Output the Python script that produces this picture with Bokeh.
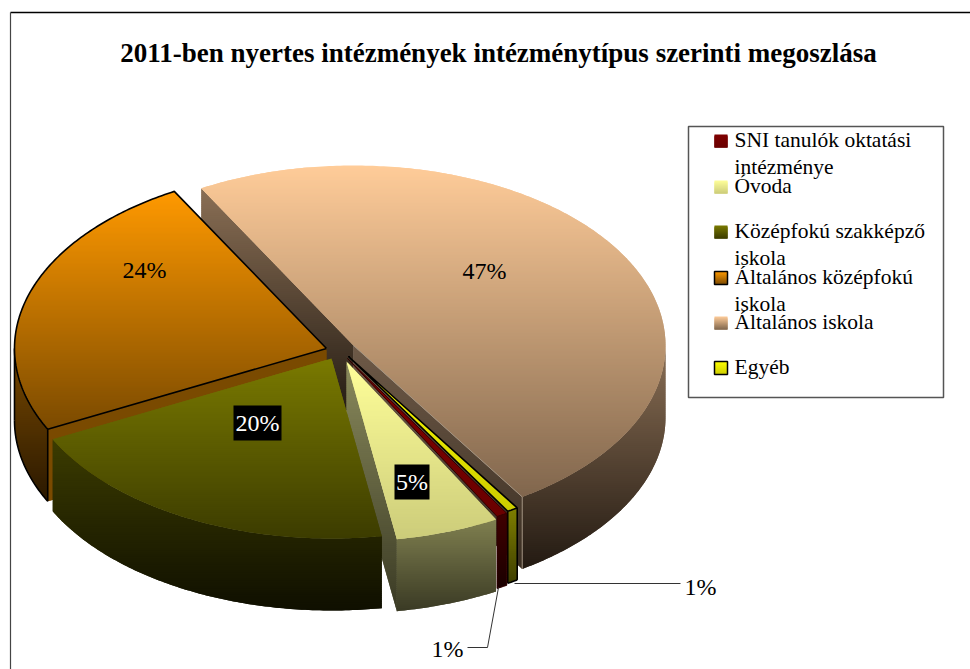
import math
from bokeh.plotting import figure
from bokeh.models import Range1d
from bokeh.core.properties import value
from bokeh.embed import file_html
from bokeh.resources import INLINE

title = "2011-ben nyertes intézmények intézménytípus szerinti megoszlása"
# clockwise from the upper-left cut of the pie
categories = ["Általános iskola", "Egyéb", "SNI tanulók oktatási intézménye", "Óvoda",
              "Középfokú szakképző iskola", "Általános középfokú iskola"]
shares = [47.4, 0.55, 0.55, 5.2, 19.5, 23.5]
legend_order = [2, 3, 4, 5, 0, 1]
legend_lines = [["SNI tanulók oktatási", "intézménye"], ["Óvoda"], ["Középfokú szakképző", "iskola"],
                ["Általános középfokú", "iskola"], ["Általános iskola"], ["Egyéb"]]

# layout: the page-pixel frame of the reference
W, H = 970, 669
CX, CY, A, B, DEPTH = 339, 352, 312, 180, 72
START = -29.2
EXPLODE = [(14, -7), (9, 4), (8, 6), (7, 9), (-8, 6), (-13, -4)]
TOP = [("#ffcc99", "#80664d"), ("#ffff00", "#cccc00"), ("#800000", "#6a0000"),
       ("#ffff99", "#cccc7a"), ("#7a7a00", "#3c3c00"), ("#ff9900", "#7a4a00")]
RIM = [("#8a6f55", "#231a12"), ("#7f7f00", "#3f3f00"), ("#400000", "#1a0000"),
       ("#808050", "#3a3a24"), ("#3c3c00", "#0f0f00"), ("#7a4a00", "#2a1800")]
WALL = [("#8a6f55", "#221a12"), ("#7a4a00", "#7a4a00"), ("#400000", "#400000"),
        ("#8a8a5c", "#3a3a24"), ("#3f3f00", "#3f3f00"), ("#7a4a00", "#7a4a00")]
OUTLINE = ["#a39482", "black", "#300000", None, None, "black"]


def hex2rgb(h):
    return tuple(int(h[i:i + 2], 16) for i in (1, 3, 5))


def mix(c0, c1, t):
    a, b = hex2rgb(c0), hex2rgb(c1)
    return "#%02x%02x%02x" % tuple(round(a[i] + (b[i] - a[i]) * t) for i in range(3))


def clip(poly, y, keep_below):
    out = []
    inside = (lambda q: q[1] >= y) if keep_below else (lambda q: q[1] <= y)
    for i, q in enumerate(poly):
        r = poly[(i + 1) % len(poly)]
        if inside(q):
            out.append(q)
        if inside(q) != inside(r):
            t = (y - q[1]) / (r[1] - q[1])
            out.append((q[0] + (r[0] - q[0]) * t, y))
    return out


def face(poly, c0, c1, step=2.0):
    """Vertical gradient: pixel-aligned bands, each overlapping the next so no seam shows."""
    xs_all, ys_all, fills = [], [], []
    ymin, ymax = min(q[1] for q in poly), max(q[1] for q in poly)
    y = float(math.floor(ymin))
    while y < ymax:
        part = clip(clip(poly, max(y, ymin), True), min(y + step + 2, ymax), False)
        if len(part) > 2:
            t = max(0.0, min(1.0, (y + step / 2 - ymin) / max(ymax - ymin, 1e-6)))
            xs_all.append([q[0] for q in part])
            ys_all.append([q[1] for q in part])
            fills.append(mix(c0, c1, t))
        y += step
    p.patches(xs_all, ys_all, fill_color=fills, line_color=None, fill_alpha=1.0)


def arc(cx, cy, t0, t1, dy=0.0):
    n = max(2, int(abs(t1 - t0) * 1.5))
    pts = []
    for i in range(n + 1):
        th = math.radians(t0 + (t1 - t0) * i / n)
        pts.append((cx + A * math.sin(th), cy - B * math.cos(th) + dy))
    return pts


def outline(pts, c, width):
    p.line([q[0] for q in pts], [q[1] for q in pts], line_color=c, line_width=width, line_alpha=1.0)


p = figure(width=W, height=H, x_range=Range1d(0, W), y_range=Range1d(H, 0),
           x_axis_type=None, y_axis_type=None, toolbar_location=None, output_backend="svg",
           min_border=0, outline_line_color=None, background_fill_color="white",
           styles={"position": "absolute", "left": "0px", "top": "0px"})

# chart frame
p.line([10, 970], [12, 12], line_color="black", line_width=1.5)
p.line([10, 10], [12, 669], line_color="#444444", line_width=1.2)

total = sum(shares)
angles = [START]
for v in shares:
    angles.append(angles[-1] + v / total * 360)

# painter's order: back to front
for i in [0, 5, 1, 2, 3, 4]:
    t0, t1 = angles[i], angles[i + 1]
    cx, cy = CX + EXPLODE[i][0], CY + EXPLODE[i][1]
    top_arc = arc(cx, cy, t0, t1)
    apex = (cx, cy)
    c = OUTLINE[i]
    width = 1.6 if c == "black" else 1
    # cut walls
    if i == 0:
        a, b = top_arc[0], top_arc[-1]
        face([a, apex, (apex[0], apex[1] + DEPTH), (a[0], a[1] + DEPTH)], WALL[0][0], WALL[0][1])
        face([apex, b, (b[0], b[1] + DEPTH), (apex[0], apex[1] + DEPTH)], "#6e5a48", "#3a2e22")
    elif i == 5:
        a = top_arc[0]
        face([apex, a, (a[0], a[1] + DEPTH), (apex[0], apex[1] + DEPTH)], WALL[5][0], WALL[5][1])
    elif i == 3:
        a = top_arc[-1]
        face([apex, a, (a[0], a[1] + DEPTH), (apex[0], apex[1] + DEPTH)], WALL[3][0], WALL[3][1])
    # rim: only the part of the side turned to the viewer
    r0, r1 = max(min(t0, t1), 90), min(max(t0, t1), 270)
    if i == 5:
        r0, r1 = t0, 270
    if r1 > r0:
        upper = arc(cx, cy, r0, r1)
        lower = arc(cx, cy, r0, r1, DEPTH)
        face(upper + lower[::-1], RIM[i][0], RIM[i][1])
        if i == 0:
            outline([upper[-1], lower[-1]], c, 1)
        elif c:
            outline(lower, c, width)
            outline([upper[0], lower[0]], c, width)
            outline([upper[-1], lower[-1]], c, width)
    # top
    face([apex] + top_arc, TOP[i][0], TOP[i][1])
    if i == 0:
        outline([apex, top_arc[-1]], c, 1)
    elif c:
        outline([apex] + top_arc + [apex], c, width)

SERIF = value("Liberation Serif")


def label(x, y, text, color="black", size="24px", style="normal", align="center"):
    p.text([x], [y], text=[text], text_color=color, text_font=SERIF, text_font_size=size,
           text_font_style=style, text_align=align, text_baseline="middle")


label(498, 52, title, size="27px", style="bold")

pct = [f"{v:.0f}%" for v in shares]
label(484, 270, pct[0])
label(144, 269, pct[5])
p.rect([257, 411.5], [422.5, 481.5], width=[48, 35], height=[35, 35], fill_color="black", line_color=None,
       fill_alpha=1.0)
label(257, 422, pct[4], "white")
label(411.5, 481, pct[3], "white")

# leader lines and the two outer labels
p.line([514, 680], [583, 583], line_color="#333333", line_width=1)
p.line([498, 487, 467], [587, 647, 647], line_color="#333333", line_width=1)
label(700, 586, pct[1])
label(447, 648, pct[2])

# legend
p.quad(left=[688], right=[943], top=[126], bottom=[397], fill_color="white", line_color="#555555", line_width=1.5,
       fill_alpha=1.0)
row_y = [140.5, 186.5, 231.5, 277.5, 322.5, 367.5]
for row, idx in enumerate(legend_order):
    y = row_y[row]
    face([(714, y - 6.5), (727, y - 6.5), (727, y + 6.5), (714, y + 6.5)], TOP[idx][0], TOP[idx][1], step=1.0)
    if OUTLINE[idx] == "black":
        p.quad(left=[714], right=[727], top=[y - 6.5], bottom=[y + 6.5], fill_color=None,
               line_color="black", line_width=1.5)
    for k, line in enumerate(legend_lines[row]):
        label(734, y - 1 + k * 26.5, line, size="21.5px", align="left")

open("out.html", "w").write(file_html(p, INLINE))
